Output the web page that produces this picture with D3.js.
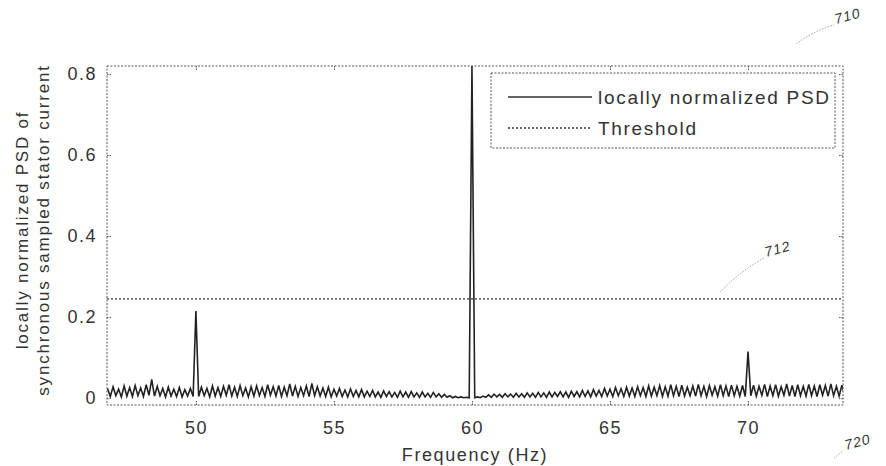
<!DOCTYPE html>
<html>
<head>
<meta charset="utf-8">
<script src="https://cdn.jsdelivr.net/npm/d3@7"></script>
<style>
  body { margin: 0; background: #fff; }
  text { font-family: "Liberation Sans", Arial, sans-serif; fill: #333; }
</style>
</head>
<body>
<script>
//chart data
var freqStart = 46.8, freqStep = 0.1;
var psdValues = [
  .024,.004,.028,.006,.022,.003,.030,.005,.026,.004,.031,.006,
  .025,.004,.033,.007,.046,.005,.029,.006,.024,.003,.027,.005,.022,.004,.026,.003,.021,.005,.024,.004,
  .215,
  .004,.027,.006,.024,.003,.030,.005,.026,.004,.029,.007,.033,.005,.027,.004,.031,.006,.025,.003,.028,
  .005,.030,.006,.026,.004,.033,.007,.028,.005,.031,.004,.027,.006,.035,.005,.029,.004,.026,.006,.030,
  .004,.036,.006,.028,.005,.025,.004,.027,.003,.022,.005,.024,.004,.020,.003,.023,.004,.019,.003,.021,
  .003,.017,.004,.019,.003,.015,.002,.018,.004,.016,.003,.014,.002,.017,.003,.015,.002,.016,.003,.013,
  .002,.015,.003,.012,.002,.014,.003,.011,.002,.009,.002,.006,.001,.004,.001,.003,.001,.002,.001,
  .82,
  .001,.003,.001,.005,.002,.008,.002,.010,.003,.009,.002,.011,.003,.010,.002,.012,.003,.011,.002,.013,
  .003,.012,.002,.014,.003,.013,.002,.015,.003,.014,.004,.016,.003,.015,.002,.017,.004,.016,.003,.019,
  .004,.018,.003,.021,.005,.019,.004,.024,.005,.022,.004,.026,.006,.023,.004,.027,.005,.025,.004,.028,
  .006,.026,.004,.030,.005,.027,.006,.031,.004,.028,.005,.033,.006,.029,.004,.032,.005,.027,.006,.030,
  .005,.034,.006,.029,.004,.031,.007,.028,.005,.033,.006,.030,.004,.032,.006,.029,.005,.031,.004,
  .115,
  .006,.032,.005,.029,.007,.034,.004,.030,.006,.033,.005,.028,.007,.035,.005,.031,.004,.033,.006,.029,
  .005,.034,.006,.030,.004,.033,.007,.031,.005,.035,.006,.029,.005,.032,.006
];
var thresholdValue = 0.245;
var xTicks = [50, 55, 60, 65, 70];
var yTicks = [0, 0.2, 0.4, 0.6, 0.8];
var legendLabels = ["locally normalized PSD", "Threshold"];

window.onload = function() {
  var w = 886, h = 466;
  var left = 107, right = 843, top = 66, bottom = 405;

  var svg = d3.select("body").append("svg")
    .attr("width", w)
    .attr("height", h);

  var psd = psdValues.map(function(v, i) {
    return {f: +(freqStart + i * freqStep).toFixed(2), v: v};
  });

  var x = d3.scaleLinear().domain([46.78, 73.44]).range([left, right]);
  var y = d3.scaleLinear().domain([-0.017, 0.82]).range([bottom, top]);

  svg.append("clipPath").attr("id", "clip")
    .append("rect")
    .attr("x", left).attr("y", top)
    .attr("width", right - left).attr("height", bottom - top);

  //psd line
  var line = d3.line()
    .x(function(d) { return x(d.f); })
    .y(function(d) { return y(d.v); });

  svg.append("path")
    .datum(psd)
    .attr("clip-path", "url(#clip)")
    .attr("d", line)
    .attr("fill", "none")
    .attr("stroke", "#222")
    .attr("stroke-width", 1.6);

  //threshold line
  svg.append("line")
    .attr("x1", left).attr("x2", right)
    .attr("y1", y(thresholdValue)).attr("y2", y(thresholdValue))
    .attr("stroke", "#333")
    .attr("stroke-width", 1.3)
    .attr("stroke-dasharray", "2,2");

  //axes box (scanned look, dotted)
  svg.append("rect")
    .attr("x", left).attr("y", top)
    .attr("width", right - left).attr("height", bottom - top)
    .attr("fill", "none")
    .attr("stroke", "#555")
    .attr("stroke-width", 1)
    .attr("stroke-dasharray", "2,1.5");

  //inward ticks on all four sides
  var xAxisB = d3.axisBottom(x).tickValues(xTicks).tickSize(-5).tickPadding(16);
  var xAxisT = d3.axisTop(x).tickValues(xTicks).tickSize(-5).tickFormat("");
  var yAxisL = d3.axisLeft(y).tickValues(yTicks).tickSize(-5).tickPadding(10)
    .tickFormat(function(d) { return d === 0 ? "0" : d3.format(".1f")(d); });
  var yAxisR = d3.axisRight(y).tickValues(yTicks).tickSize(-5).tickFormat("");

  [[xAxisB, "translate(0," + bottom + ")"],
   [xAxisT, "translate(0," + top + ")"],
   [yAxisL, "translate(" + left + ",0)"],
   [yAxisR, "translate(" + right + ",0)"]].forEach(function(a) {
    var g = svg.append("g").attr("transform", a[1]).call(a[0]);
    g.select(".domain").remove();
    g.selectAll("line").attr("stroke", "#555").attr("stroke-dasharray", "1.5,1");
    g.selectAll("text")
      .style("font-size", "18px")
      .style("letter-spacing", "1.5px")
      .attr("fill", "#333");
  });

  //axis titles
  svg.append("text")
    .attr("x", 475).attr("y", 461)
    .attr("text-anchor", "middle")
    .style("font-size", "18px")
    .style("letter-spacing", "1.6px")
    .text("Frequency (Hz)");

  var yl = svg.append("text")
    .attr("transform", "translate(28,230) rotate(-90)")
    .attr("text-anchor", "middle")
    .style("font-size", "17px")
    .style("letter-spacing", "1.8px");
  yl.append("tspan").attr("x", 0).attr("dy", 0).text("locally normalized PSD of");
  yl.append("tspan").attr("x", 0).attr("dy", 21).text("synchronous sampled stator current");

  //legend
  var lg = svg.append("g").attr("transform", "translate(491,73)");
  lg.append("rect")
    .attr("width", 344).attr("height", 75)
    .attr("fill", "#fff")
    .attr("stroke", "#555")
    .attr("stroke-dasharray", "2,1.5");
  legendLabels.forEach(function(label, i) {
    var yy = 24 + i * 31;
    lg.append("line")
      .attr("x1", 17).attr("x2", 101)
      .attr("y1", yy).attr("y2", yy)
      .attr("stroke", "#333")
      .attr("stroke-width", 1.3)
      .attr("stroke-dasharray", i === 0 ? null : "2,2");
    lg.append("text")
      .attr("x", 107).attr("y", yy + 7)
      .style("font-size", "19px")
      .style("letter-spacing", "1.7px")
      .text(label);
  });

  //reference numerals of the drawing
  var notes = [
    {t: "710", x: 836, y: 24, path: "M796,44 Q815,30 834,25"},
    {t: "712", x: 766, y: 257, path: "M720,292 Q742,270 764,258"},
    {t: "720", x: 846, y: 450, path: "M834,458 Q838,455 843,451"}
  ];
  notes.forEach(function(n) {
    svg.append("path")
      .attr("d", n.path)
      .attr("fill", "none")
      .attr("stroke", "#999")
      .attr("stroke-dasharray", "1.5,1.5");
    svg.append("text")
      .attr("x", n.x).attr("y", n.y)
      .attr("transform", "rotate(-15," + n.x + "," + n.y + ")")
      .style("font-size", "14px")
      .style("font-style", "italic")
      .style("letter-spacing", "1px")
      .attr("fill", "#999")
      .text(n.t);
  });
};
</script>
</body>
</html>
